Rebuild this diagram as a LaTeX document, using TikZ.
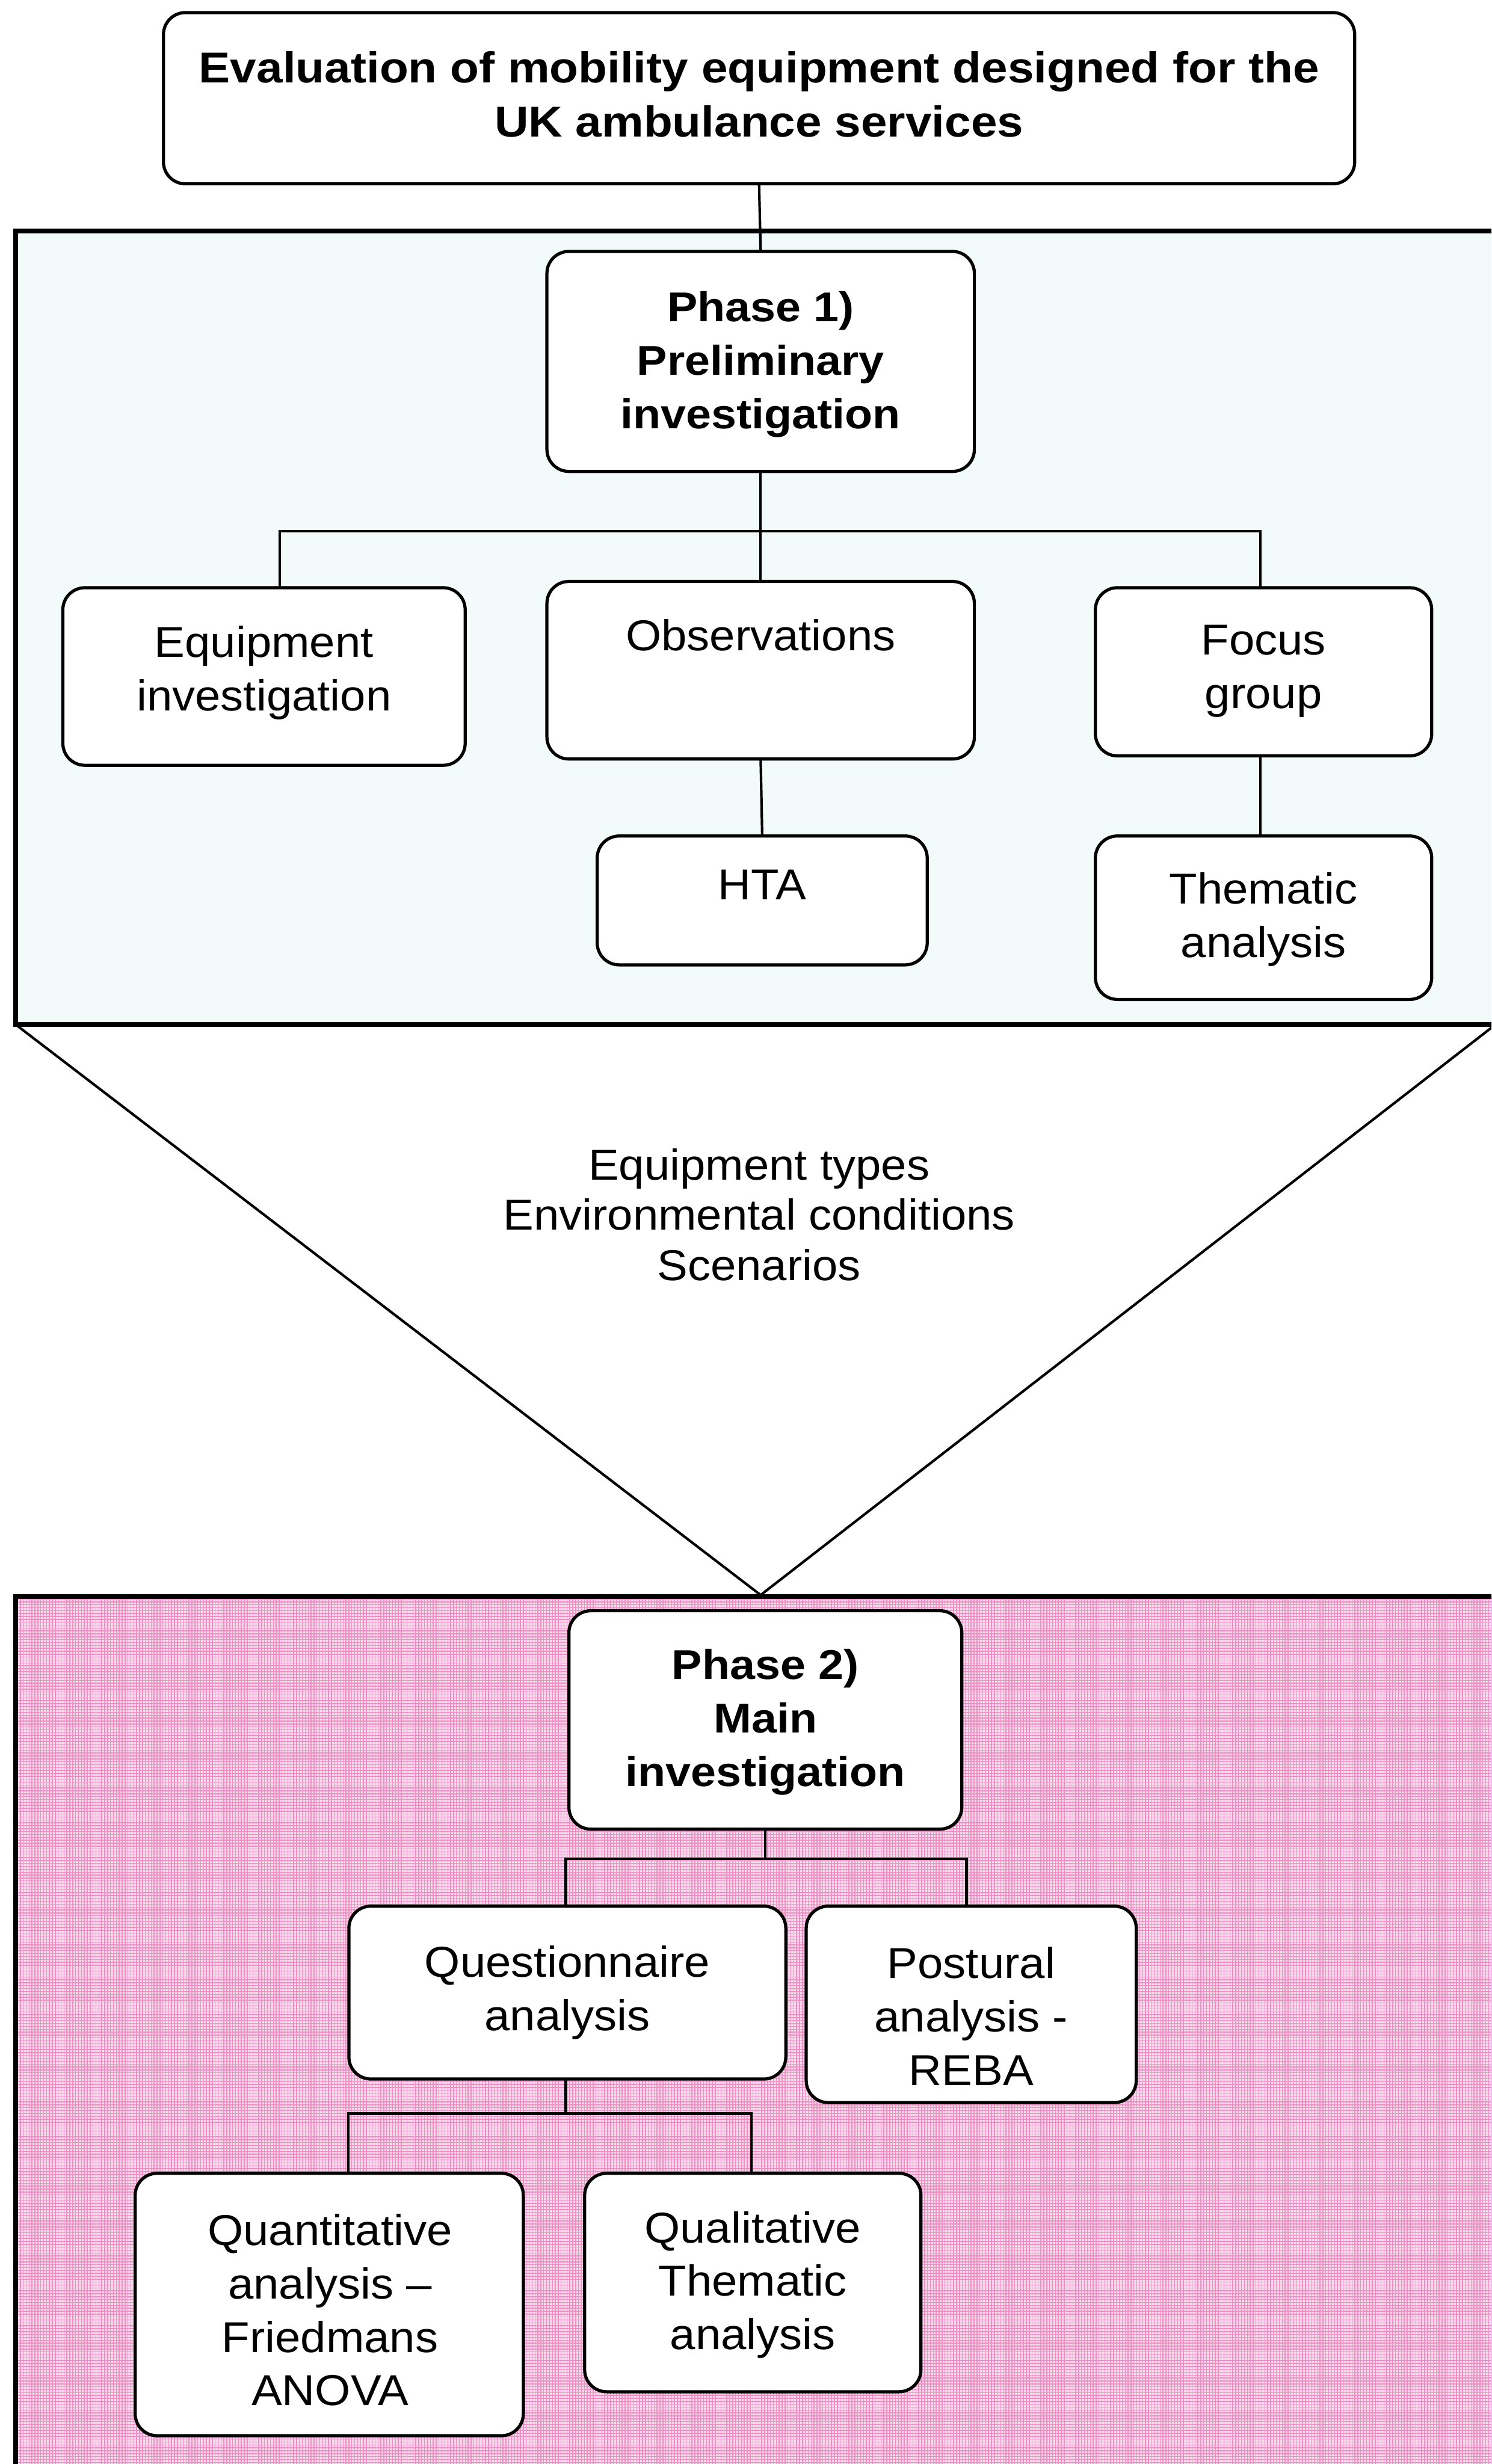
\documentclass[tikz,border=0pt]{standalone}
\usepackage{fontspec}
\setmainfont{Liberation Sans}[FakeStretch=1.06, BoldFeatures={FakeStretch=1.09}]
\definecolor{phaseonefill}{HTML}{F3FAFA}
\definecolor{phasetwofill}{HTML}{F9DCEB}
\definecolor{phasetwogrid}{HTML}{EE8EC2}
\tikzset{
  box/.style={draw=black, line width=2pt, fill=white, rounded corners=14pt,
              inner sep=0pt, outer sep=0pt},
  panel/.style={draw=black, line width=3pt},
  link/.style={draw=black, line width=1.6pt},
  txt/.style={align=center, inner sep=0pt, font=\fontsize{27.5}{34}\selectfont},
  btxt/.style={align=center, inner sep=0pt, font=\bfseries\fontsize{26.5}{34}\selectfont},
  ttxt/.style={align=center, inner sep=0pt, font=\bfseries\fontsize{27.5}{34.4}\selectfont},
}
% rounded box from its corners (x1,y1)-(x2,y2)
\newcommand\flowbox[5]{%
  \node[box, minimum width={#4-#2}, minimum height={#5-#3}]
    (#1) at ({(#2+#4)/2},{(#3+#5)/2}) {};}
\begin{document}
\begin{tikzpicture}[x=1pt, y=-1pt]
\useasboundingbox (0,0) rectangle (949,1568);
\clip (0,0) rectangle (949,1568);
\fill[white] (0,0) rectangle (949,1568);

% phase panels
\fill[phaseonefill] (10,147) rectangle (970,652);
\fill[phasetwofill] (10,1016) rectangle (970,1600);
\begin{scope}
  \clip (10,1016) rectangle (970,1600);
  \draw[phasetwogrid, line width=0.55pt, step=1.85pt] (10,1016) grid (970,1600);
\end{scope}
\draw[panel] (970,147) -- (10,147) -- (10,652) -- (970,652);
\draw[panel] (970,1016) -- (10,1016) -- (10,1600);

% funnel between the phases
\coordinate (fl) at (10,652);
\coordinate (fr) at (949,654);
\coordinate (fa) at (484,1015);
\draw[link] (fl) -- (fa) -- (fr);
\node[txt, font=\fontsize{27.5}{32}\selectfont] (carry) at (483,773)
  {Equipment types\\Environmental conditions\\Scenarios};

% boxes
\flowbox{title}{104}{8}{862}{117}
\node[ttxt] (title-t) at (483,60) {Evaluation of mobility equipment designed for the\\UK ambulance services};

\flowbox{p1}{348}{160}{620}{300}
\node[btxt] (p1-t) at (484,232) {Phase 1)\\Preliminary\\investigation};

\flowbox{equip}{40}{374}{296}{487}
\node[txt] (equip-t) at (168,428) {Equipment\\investigation};

\flowbox{obs}{348}{370}{620}{483}
\node[txt] (obs-t) at (484,404) {Observations};

\flowbox{hta}{380}{532}{590}{614}
\node[txt] (hta-t) at (485,563) {HTA};

\flowbox{focus}{697}{374}{911}{481}
\node[txt] (focus-t) at (804,427) {Focus\\group};

\flowbox{them}{697}{532}{911}{636}
\node[txt] (them-t) at (804,585) {Thematic\\analysis};

\flowbox{p2}{362}{1025}{612}{1164}
\node[btxt] (p2-t) at (487,1096) {Phase 2)\\Main\\investigation};

\flowbox{quest}{222}{1213}{500}{1323}
\node[txt] (quest-t) at (361,1268) {Questionnaire\\analysis};

\flowbox{post}{513}{1213}{723}{1338}
\node[txt] (post-t) at (618,1283) {Postural\\analysis -\\REBA};

\flowbox{quant}{86}{1383}{333}{1550}
\node[txt] (quant-t) at (210,1470) {Quantitative\\analysis --\\Friedmans\\ANOVA};

\flowbox{qual}{372}{1383}{586}{1522}
\node[txt] (qual-t) at (479,1454) {Qualitative\\Thematic\\analysis};

% connectors
\draw[link] (title.south) -- (p1.north);

\coordinate (bus1) at (484,338);
\draw[link] (p1.south) -- (bus1) -- (obs.north);
\draw[link] ([xshift=10pt]equip.north) |- (bus1) -| ([xshift=-2pt]focus.north);
\draw[link] (obs.south) -- (hta.north);
\draw[link] ([xshift=-2pt]focus.south) -- ([xshift=-2pt]them.north);

\coordinate (bus2) at (487,1183);
\draw[link] (p2.south) -- (bus2);
\draw[link] ([xshift=-1pt]quest.north) |- (bus2) -| ([xshift=-3pt]post.north);

\coordinate (bus3) at (360,1345);
\draw[link] ([xshift=-1pt]quest.south) -- (bus3);
\draw[link] ([xshift=12pt]quant.north) |- (bus3) -| ([xshift=-1pt]qual.north);
\end{tikzpicture}
\end{document}
